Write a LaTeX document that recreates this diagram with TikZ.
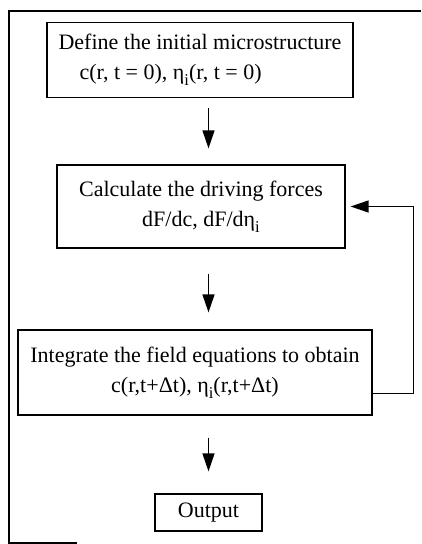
\documentclass[tikz,border=0pt]{standalone}
\usepackage{fontspec}
\setmainfont{Liberation Serif}
\usetikzlibrary{arrows.meta}
\newcommand{\subi}{\raisebox{-0.55ex}{\fontsize{16.5bp}{16.5bp}\selectfont i}}
\tikzset{
  box/.style={draw, line width=1.2bp, inner sep=0pt, font=\fontsize{22bp}{30bp}\selectfont},
  arr/.style={line width=1.3bp, -{Triangle[length=18bp,width=12bp]}},
  frame/.style={line width=1.3bp}
}
\begin{document}
\begin{tikzpicture}[x=1bp,y=-1bp]
\useasboundingbox (0,0) rectangle (421,544);
\draw[frame] (421,11) -- (9,11) -- (9,543) -- (77,543);
\node[box, align=left, minimum width=306bp, minimum height=75bp] (b1) at (200,60)
  {Define the initial microstructure\\\hspace*{21bp}c(r, t = 0), η\subi(r, t = 0)};
\node[box, align=center, minimum width=288bp, minimum height=83bp] (b2) at (201,206.5)
  {Calculate the driving forces\\dF/dc, dF/dη\subi};
\node[box, align=center, minimum width=354bp, minimum height=85bp] (b3) at (195,372.5)
  {Integrate the field equations to obtain\\c(r,t+Δt), η\subi(r,t+Δt)};
\node[box, minimum width=107bp, minimum height=37bp] (b4) at (208.5,512.5) {Output};
\draw[arr, shorten <=10bp, shorten >=16bp] (b1.south -| b4.north) -- (b2.north -| b4.north);
\draw[arr, shorten <=25bp, shorten >=17bp] (b2.south -| b4.north) -- (b3.north -| b4.north);
\draw[arr, shorten <=22bp, shorten >=22bp] (b3.south -| b4.north) -- (b4.north);
\draw[arr, shorten >=5bp] ([yshift=-21bp]b3.east) -- ++(41,0) |- (b2.east);
\end{tikzpicture}
\end{document}
